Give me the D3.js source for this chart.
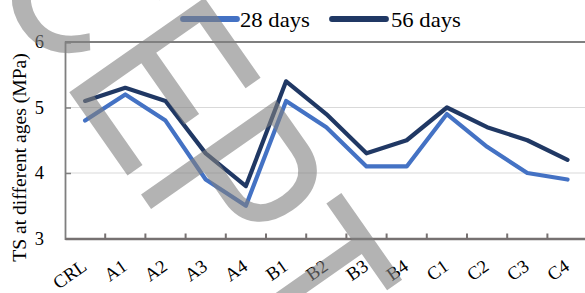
<!DOCTYPE html>
<html><head><meta charset="utf-8">
<script src="https://cdn.jsdelivr.net/npm/d3@7"></script>
<style>html,body{margin:0;padding:0;background:#fff;}svg{display:block;}</style>
</head><body>
<svg id="c" width="585" height="293"></svg>
<script>
const categories = ["CRL","A1","A2","A3","A4","B1","B2","B3","B4","C1","C2","C3","C4"];
const days28 = [4.8,5.2,4.8,3.9,3.5,5.1,4.7,4.1,4.1,4.9,4.4,4.0,3.9];
const days56 = [5.1,5.3,5.1,4.3,3.8,5.4,4.9,4.3,4.5,5.0,4.7,4.5,4.2];
const yTicks = [3,4,5,6];
const seriesNames = ["28 days","56 days"];
const seriesColors = ["#4472C4","#203864"];
const yTitle = "TS at different ages (MPa)";
const watermark = "CEPT";

const SERIF = "'Liberation Serif', 'Times New Roman', serif";
const svg = d3.select("#c");
const L = 65, T = 42, B = 238.5;
const x = d3.scaleBand().domain(categories).range([L, L + 13*40.2]).padding(0);
const y = d3.scaleLinear().domain([3,6]).range([B, T]);

// gridlines
svg.append("g").selectAll("line").data([4,5]).join("line")
  .attr("x1", L).attr("x2", 585).attr("y1", d=>y(d)).attr("y2", d=>y(d))
  .attr("stroke", "#d9d9d9").attr("stroke-width", 1.2);
// top border
svg.append("line").attr("x1", L).attr("x2", 585).attr("y1", y(6)).attr("y2", y(6))
  .attr("stroke", "#7f7f7f").attr("stroke-width", 1.8);

// y axis
const ya = svg.append("g").attr("transform", `translate(${L},0)`)
  .call(d3.axisLeft(y).tickValues(yTicks).tickSize(-6).tickPadding(21).tickFormat(d3.format("d")));
ya.select(".domain").attr("stroke", "#7f7f7f").attr("stroke-width", 1.8);
ya.selectAll(".tick line").attr("stroke", "#7f7f7f").attr("stroke-width", 1.5);
ya.selectAll(".tick text").style("font-family", SERIF).style("font-size", "18.5px").attr("fill", "#000");

// x axis
const xa = svg.append("g").attr("transform", `translate(0,${B})`)
  .call(d3.axisBottom(x).tickSize(0).tickSizeOuter(0).tickFormat(""));
xa.select(".domain").attr("stroke", "#767171").attr("stroke-width", 2.6);
svg.append("g").selectAll("line").data(categories.slice(1)).join("line")
  .attr("x1", d=>x(d)).attr("x2", d=>x(d)).attr("y1", B).attr("y2", B-5)
  .attr("stroke", "#767171").attr("stroke-width", 2);
// x labels
const xl = svg.append("g").selectAll("g").data(categories).join("g")
  .attr("transform", d=>`translate(${x(d)+x.bandwidth()/2+3},269)`);
xl.append("text").attr("transform", "rotate(-35)")
  .attr("text-anchor", "end")
  .style("font-family", SERIF).style("font-size", "18.5px").attr("fill", "#000")
  .text(d=>d);

// y title
svg.append("text").attr("transform", `translate(25.5,157.5) rotate(-90)`)
  .attr("text-anchor", "middle").style("font-family", SERIF).style("font-size", "19.6px")
  .attr("fill", "#000").text(yTitle);

// lines
const line = d3.line().x((d,i)=>x(categories[i])+x.bandwidth()/2).y(d=>y(d));
[days28, days56].forEach((s,k)=>{
  svg.append("path").datum(s).attr("d", line).attr("fill","none")
    .attr("stroke", seriesColors[k]).attr("stroke-width", 4.2)
    .attr("stroke-linejoin","round").attr("stroke-linecap","round");
});

// legend
const legX = [183, 332], legTX = [240, 391];
seriesNames.forEach((n,k)=>{
  svg.append("line").attr("x1", legX[k]).attr("x2", legX[k]+54).attr("y1", 19).attr("y2", 19)
    .attr("stroke", seriesColors[k]).attr("stroke-width", 5.8).attr("stroke-linecap","round");
  svg.append("text").attr("transform", `translate(${legTX[k]},26.5) scale(1.08,1)`)
    .style("font-family", SERIF).style("font-size", "21px").attr("fill","#000").text(n);
});

// watermark
svg.append("text").attr("transform", "translate(-17,-31) rotate(55) scale(0.78,1)")
  .style("font-family", "'Liberation Sans', Arial, sans-serif").style("font-size", "240px")
  .attr("fill", "#808080").attr("fill-opacity", 0.6).text(watermark);
</script>
</body></html>
